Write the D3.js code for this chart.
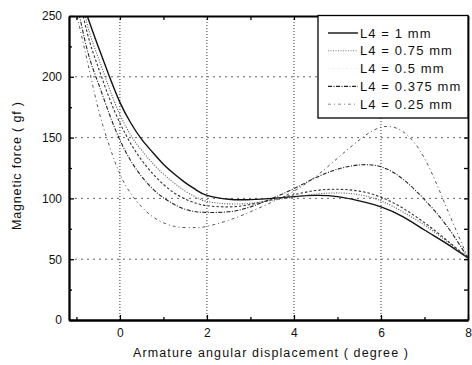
<!DOCTYPE html>
<html><head><meta charset="utf-8">
<script src="https://cdn.jsdelivr.net/npm/d3@7"></script>
<style>
body{margin:0;background:#fff}
svg{display:block}
text{font-family:"Liberation Sans",Arial,sans-serif;fill:#111}
</style>
</head><body><svg id="c" width="472" height="365"></svg>
<script>
// ---- data ----
const xValues = [-1.2, -1, -0.75, -0.5, -0.25, 0, 0.25, 0.5, 0.75, 1, 1.25, 1.5, 1.75, 2, 2.5, 3, 3.5, 4, 4.5, 5, 5.5, 6, 6.5, 7, 7.5, 8];
const seriesNames = ["L4 = 1 mm", "L4 = 0.75 mm", "L4 = 0.5 mm", "L4 = 0.375 mm", "L4 = 0.25 mm"];
const force1mm   = [300, 277, 250, 225, 201, 179, 162, 148.5, 138, 128, 120, 113, 107, 102.5, 99.3, 99, 100, 101.5, 102.5, 101.5, 98, 93, 85, 74, 63, 51];
const force075mm = [305, 283, 243, 216, 191, 169, 152, 139.5, 129, 120, 112.5, 106, 101, 97.5, 95.5, 96, 98.5, 101, 103.5, 104.5, 103, 98, 89, 78, 65, 51];
const force05mm  = [300, 275, 236, 208, 183, 162, 145, 131.5, 120.5, 111.5, 104.5, 99.5, 96, 94, 93, 95, 99, 103, 106.5, 107.5, 106, 101, 92, 80, 66, 51];
const force0375mm= [290, 262, 222, 195, 170, 148, 131, 118, 108, 100.5, 95, 91, 89, 88.5, 89, 93, 100, 108, 117, 124, 127.5, 126, 116, 99, 78, 51];
const force025mm = [290, 253, 213, 174, 144, 120, 104, 93, 85, 80, 77, 76, 76, 77, 82, 89, 97, 106, 118, 133, 148, 158.5, 155, 133, 93, 51];
const seriesValues = [force1mm, force075mm, force05mm, force0375mm, force025mm];
const xTickValues = [0, 2, 4, 6, 8];
const yTickValues = [0, 50, 100, 150, 200, 250];
const xLabel = "Armature angular displacement ( degree )";
const yLabel = "Magnetic force ( gf )";

// ---- styles ----
const styles = [
  {stroke:"#111", width:1.4, dash:null, legendStroke:"#111"},
  {stroke:"#555", width:1.1, dash:"1,1.5", legendStroke:"#777"},
  {stroke:"#333", width:1.1, dash:"2.5,2", legendStroke:"#f2f2f2"},
  {stroke:"#222", width:1.1, dash:"4,1.5,1,1.5", legendStroke:"#222"},
  {stroke:"#555", width:1.0, dash:"3,3,1,3", legendStroke:"#888"}
];

const svg = d3.select("#c");
const L = 69, R = 468, T = 16, B = 320;
const x = d3.scaleLinear().domain([-1.17, 8]).range([L, R]);
const y = d3.scaleLinear().domain([0, 250]).range([B, T]);

svg.append("defs").append("clipPath").attr("id","clip")
  .append("rect").attr("x",L).attr("y",T).attr("width",R-L).attr("height",B-T);

// grid
const grid = svg.append("g");
grid.selectAll("line.v").data(xTickValues.filter(d=>d<8)).join("line")
  .attr("x1",d=>x(d)).attr("x2",d=>x(d)).attr("y1",T).attr("y2",B)
  .attr("stroke","#333").attr("stroke-width",1).attr("stroke-dasharray","1,2");
grid.selectAll("line.h").data(yTickValues.filter(d=>d>0&&d<250)).join("line")
  .attr("x1",L).attr("x2",R).attr("y1",d=>y(d)).attr("y2",d=>y(d))
  .attr("stroke","#666").attr("stroke-width",1).attr("stroke-dasharray","2,4");

// lines
const line = d3.line().x((d,i)=>x(xValues[i])).y(d=>y(d)).curve(d3.curveNatural);
const lg = svg.append("g").attr("clip-path","url(#clip)");
seriesValues.forEach((vals,k)=>{
  lg.append("path").datum(vals).attr("d",line).attr("fill","none")
    .attr("stroke",styles[k].stroke).attr("stroke-width",styles[k].width)
    .attr("stroke-dasharray",styles[k].dash);
});

// axes
function styleAxis(g){
  g.select(".domain").attr("stroke","#000").attr("stroke-width",1.8);
  g.selectAll(".tick line").attr("stroke","#000").attr("stroke-width",1.3);
  g.selectAll("text").attr("font-size",12).attr("fill","#000")
    .attr("font-family","'Liberation Sans',Arial,sans-serif");
}
const minorY = d3.range(0, 251, 25);
const minorX = d3.range(-1, 9, 1);
svg.append("g").attr("transform",`translate(${L},0)`)
  .call(d3.axisLeft(y).tickValues(minorY.filter(d=>d%50)).tickSize(-3).tickFormat("").tickSizeOuter(0))
  .call(styleAxis);
svg.append("g").attr("transform",`translate(${L},0)`)
  .call(d3.axisLeft(y).tickValues(yTickValues).tickSize(-5).tickPadding(7).tickSizeOuter(0))
  .call(styleAxis);
svg.append("g").attr("transform",`translate(0,${B})`)
  .call(d3.axisBottom(x).tickValues(minorX.filter(d=>d%2)).tickSize(-3).tickFormat("").tickSizeOuter(0))
  .call(styleAxis);
svg.append("g").attr("transform",`translate(0,${B})`)
  .call(d3.axisBottom(x).tickValues(xTickValues).tickSize(-5).tickPadding(8.5).tickSizeOuter(0))
  .call(styleAxis);
svg.append("g").attr("transform",`translate(0,${T})`)
  .call(d3.axisTop(x).tickValues(minorX).tickSize(-4).tickFormat("").tickSizeOuter(0))
  .call(styleAxis);
svg.append("g").attr("transform",`translate(${R},0)`)
  .call(d3.axisRight(y).tickValues(minorY).tickSize(-4).tickFormat("").tickSizeOuter(0))
  .call(styleAxis);

// axis titles
svg.append("text").attr("x",(133+408)/2).attr("y",357).attr("text-anchor","middle")
  .attr("font-size",12.5).attr("textLength",275).attr("lengthAdjust","spacing").text(xLabel);
svg.append("text").attr("transform","translate(21,166) rotate(-90)").attr("text-anchor","middle")
  .attr("font-size",12.5).attr("textLength",128).attr("lengthAdjust","spacing").text(yLabel);

// legend
const lgd = svg.append("g");
lgd.append("rect").attr("x",318).attr("y",15.5).attr("width",R-318).attr("height",102.5)
  .attr("fill","#fff").attr("stroke","#000").attr("stroke-width",1.3);
seriesNames.forEach((name,k)=>{
  const cy = 33 + k*17.8;
  lgd.append("line").attr("x1",328).attr("x2",358).attr("y1",cy).attr("y2",cy)
    .attr("stroke",styles[k].legendStroke).attr("stroke-width",styles[k].width)
    .attr("stroke-dasharray",styles[k].dash);
  lgd.append("text").attr("x",360).attr("y",cy+4.6).attr("font-size",13)
    .attr("letter-spacing","1.1px").text(name);
});
</script>
</body></html>
